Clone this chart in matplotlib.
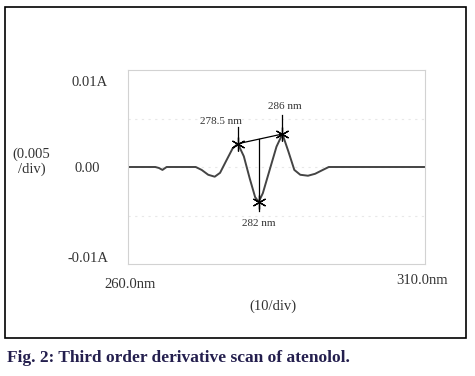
import matplotlib
matplotlib.use("Agg")
import matplotlib.pyplot as plt
from matplotlib.patches import Rectangle

# third order derivative trace
wavelength = [260, 264.6, 265.2, 265.8, 266.5, 271.4, 272.4, 273.5, 274.6, 275.5,
              276.5, 277.6, 278.5, 279.5, 280.5, 281.4, 282.0, 282.7, 283.8, 285.0,
              286.0, 287.0, 288.0, 289.0, 290.3, 291.5, 292.8, 293.8, 310]
deriv = [0, 0, -0.0001, -0.0003, 0, 0, -0.0003, -0.0008, -0.0010, -0.0006,
         0.0006, 0.0019, 0.0024, 0.0011, -0.0012, -0.0031, -0.0036, -0.0027, -0.0004, 0.0021,
         0.0034, 0.0016, -0.0003, -0.0008, -0.0009, -0.0007, -0.0003, 0, 0]

peak_nm = [278.5, 286.0]
peak_val = [0.0024, 0.0034]
trough_nm = 282.0
trough_val = -0.0036

SERIF = "Liberation Serif"
W, H = 475, 376

fig = plt.figure(figsize=(W / 100, H / 100), dpi=100)
fig.patch.set_facecolor("white")

# outer frame around the figure panel
fig.patches.append(Rectangle((5 / W, 1 - 338 / H), 461 / W, 331 / H, transform=fig.transFigure,
                             fill=False, edgecolor="black", linewidth=1.2))

ax = fig.add_axes([128 / W, 1 - 264 / H, 297 / W, 194 / H])
ax.set_xlim(260, 310)
ax.set_ylim(-0.01, 0.01)
for s in ax.spines.values():
    s.set_color("#d2d2d2")
    s.set_linewidth(0.8)
ax.set_xticks([])
ax.set_yticks([])
for yv in [-0.005, 0, 0.005]:
    ax.axhline(yv, color="#e8e8e8", linewidth=0.8, linestyle=(0, (2, 4)), zorder=0)

ax.plot(wavelength, deriv, color="#444444", linewidth=1.4, zorder=2)

# peak markers and connecting line
ax.plot(peak_nm, peak_val, color="black", linewidth=0.9, zorder=3)
mid = peak_val[0] + (trough_nm - peak_nm[0]) / (peak_nm[1] - peak_nm[0]) * (peak_val[1] - peak_val[0])
ax.plot([trough_nm, trough_nm], [mid, trough_val], color="black", linewidth=0.9, zorder=3)
ax.plot(peak_nm + [trough_nm], peak_val + [trough_val], linestyle="none",
        marker=(6, 2, 0), markersize=10, color="black", markeredgewidth=0.9, zorder=4)

# label stems
ax.plot([278.5, 278.5], [0.0041, 0.0024], color="black", linewidth=0.9)
ax.plot([286.0, 286.0], [0.0054, 0.0034], color="black", linewidth=0.9)
ax.plot([282.0, 282.0], [-0.0036, -0.0045], color="black", linewidth=0.9)

ax.text(275.6, 0.0047, "278.5 nm", fontsize=8, family=SERIF, ha="center", va="center", color="#333333")
ax.text(286.4, 0.0062, "286 nm", fontsize=8, family=SERIF, ha="center", va="center", color="#333333")
ax.text(282.0, -0.0058, "282 nm", fontsize=8, family=SERIF, ha="center", va="center", color="#333333")

# axis annotations in the style of the spectrophotometer print-out
tc = "#333333"
fs = 10.5
fig.text(108 / W, 1 - 82 / H, "0.01A", fontsize=fs, family=SERIF, ha="right", va="center", color=tc)
fig.text(100 / W, 1 - 168 / H, "0.00", fontsize=fs, family=SERIF, ha="right", va="center", color=tc)
fig.text(108 / W, 1 - 258 / H, "-0.01A", fontsize=fs, family=SERIF, ha="right", va="center", color=tc)
fig.text(31 / W, 1 - 154 / H, "(0.005", fontsize=fs, family=SERIF, ha="center", va="center", color=tc)
fig.text(32 / W, 1 - 169 / H, "/div)", fontsize=fs, family=SERIF, ha="center", va="center", color=tc)
fig.text(130 / W, 1 - 285 / H, "260.0nm", fontsize=fs, family=SERIF, ha="center", va="center", color=tc)
fig.text(422 / W, 1 - 280 / H, "310.0nm", fontsize=fs, family=SERIF, ha="center", va="center", color=tc)
fig.text(273 / W, 1 - 306 / H, "(10/div)", fontsize=fs, family=SERIF, ha="center", va="center", color=tc)

fig.text(7 / W, 1 - 358 / H, "Fig. 2: Third order derivative scan of atenolol.", fontsize=12.5,
         family=SERIF, weight="bold", ha="left", va="center", color="#241f4e")

fig.savefig("out.png", dpi=100)
